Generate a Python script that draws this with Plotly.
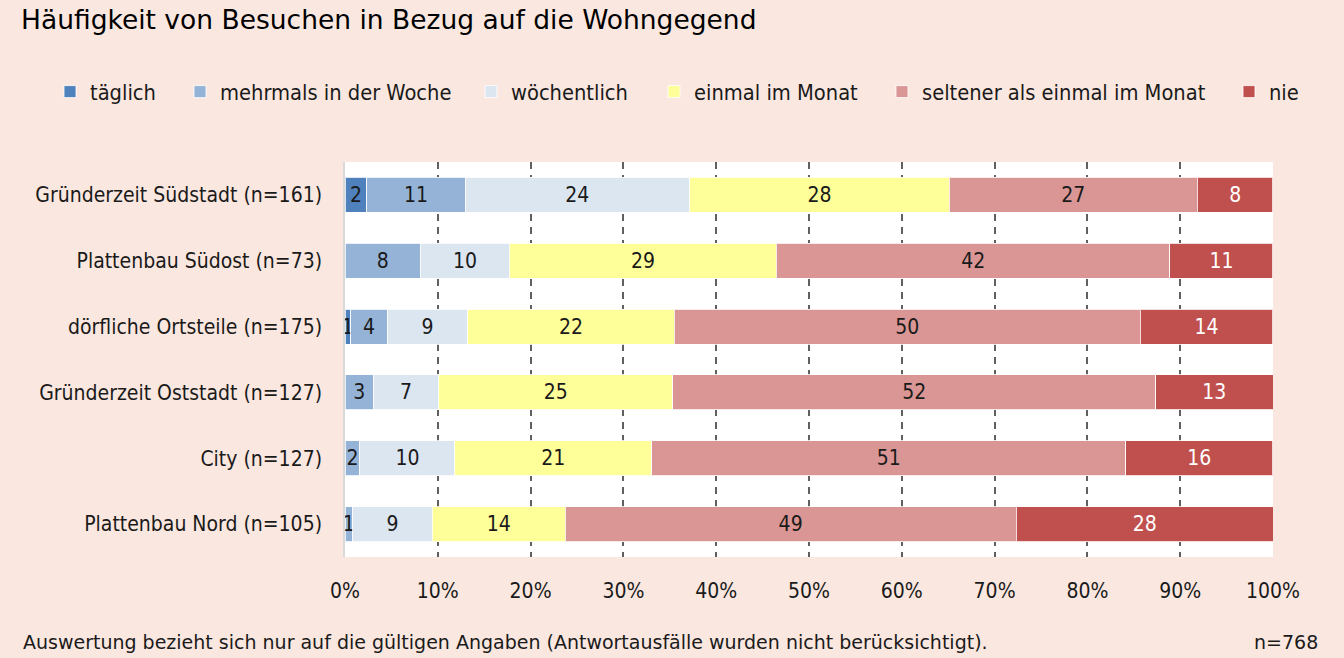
import plotly.graph_objects as go

categories = [
    "Gründerzeit Südstadt (n=161)",
    "Plattenbau Südost (n=73)",
    "dörfliche Ortsteile (n=175)",
    "Gründerzeit Oststadt (n=127)",
    "City (n=127)",
    "Plattenbau Nord (n=105)",
]

series_names = [
    "täglich",
    "mehrmals in der Woche",
    "wöchentlich",
    "einmal im Monat",
    "seltener als einmal im Monat",
    "nie",
]

taeglich = [2.37, 0.0, 0.6, 0.0, 0.0, 0.0]
mehrmals = [10.57, 8.12, 4.0, 3.05, 1.6, 0.82]
woechentlich = [24.2, 9.6, 8.6, 7.05, 10.25, 8.6]
einmal = [27.97, 28.77, 22.29, 25.24, 21.2, 14.3]
seltener = [26.75, 42.4, 50.2, 52.0, 51.1, 48.6]
nie = [8.13, 11.1, 14.3, 12.66, 15.83, 27.7]

tick_values = [0, 10, 20, 30, 40, 50, 60, 70, 80, 90, 100]
tick_labels = ["0%", "10%", "20%", "30%", "40%", "50%", "60%", "70%", "80%", "90%", "100%"]

colors = ["#4F81BD", "#95B3D7", "#DCE6F1", "#FFFF99", "#DA9694", "#C0504D"]
text_colors = ["#1a1a1a", "#1a1a1a", "#1a1a1a", "#1a1a1a", "#1a1a1a", "#ffffff"]

# left edge (px, in the page) where each legend entry's text begins
legend_text_x = [90, 220, 511, 694, 922, 1269]

FONT = "DejaVu Sans Condensed, Liberation Sans Narrow, sans-serif"
W, H = 1344, 658

fig = go.Figure()
legend_ids = ["legend"] + ["legend%d" % i for i in range(2, 7)]
for name, vals, col, tcol, lid in zip(series_names,
                                      [taeglich, mehrmals, woechentlich, einmal, seltener, nie],
                                      colors, text_colors, legend_ids):
    texts = [("%.0f" % v) if v > 0 else "" for v in vals]
    fig.add_trace(go.Bar(
        y=categories,
        x=vals,
        name=name,
        legend=lid,
        orientation="h",
        marker=dict(color=col, line=dict(color="rgba(255,255,255,0.8)", width=1)),
        text=texts,
        textposition="inside",
        insidetextanchor="middle",
        constraintext="none",
        textangle=0,
        textfont=dict(family=FONT, size=21, color=tcol),
        hovertemplate="%{y}<br>" + name + ": %{x:.0f}%<extra></extra>",
    ))

legends = {}
for lid, tx in zip(legend_ids, legend_text_x):
    legends[lid] = dict(
        orientation="h",
        xref="container", x=(tx - 40) / W, xanchor="left",
        yref="container", y=1 - 92 / H, yanchor="middle",
        font=dict(family=FONT, size=21.7, color="#1a1a1a"),
        bgcolor="rgba(0,0,0,0)",
        borderwidth=0,
    )

FOOT_FONT = "DejaVu Sans, sans-serif"

fig.update_layout(
    width=W,
    height=H,
    barmode="stack",
    bargap=0.47,
    paper_bgcolor="#FAE8E0",
    plot_bgcolor="#FFFFFF",
    margin=dict(l=345, r=71, t=162, b=101, autoexpand=False),
    font=dict(family=FONT, size=20, color="#1a1a1a"),
    title=dict(
        text="Häufigkeit von Besuchen in Bezug auf die Wohngegend",
        font=dict(family="DejaVu Sans, sans-serif", size=26.5, color="#000000"),
        xref="container", x=21 / W, xanchor="left",
        yref="container", y=1 - 20 / H, yanchor="middle",
    ),
    xaxis=dict(
        range=[0, 100],
        tickvals=tick_values,
        ticktext=tick_labels,
        showgrid=True,
        gridcolor="#606060",
        gridwidth=1.5,
        griddash="7px,6px",
        zeroline=False,
        showline=False,
        ticks="",
        ticklabelstandoff=19,
        tickfont=dict(family=FONT, size=21, color="#1a1a1a"),
        fixedrange=True,
    ),
    yaxis=dict(
        autorange="reversed",
        showline=True,
        linecolor="#D9D9D9",
        linewidth=1.5,
        showgrid=False,
        ticks="",
        ticklabelstandoff=17,
        tickfont=dict(family=FONT, size=21, color="#1a1a1a"),
        fixedrange=True,
    ),
    annotations=[
        dict(text="Auswertung bezieht sich nur auf die gültigen Angaben (Antwortausfälle wurden nicht berücksichtigt).",
             xref="paper", yref="paper", x=-324 / 928, y=-85 / 395,
             xanchor="left", yanchor="middle", showarrow=False,
             font=dict(family=FOOT_FONT, size=19, color="#1a1a1a")),
        dict(text="n=768",
             xref="paper", yref="paper", x=(1320 - 345) / 928, y=-85 / 395,
             xanchor="right", yanchor="middle", showarrow=False,
             font=dict(family=FOOT_FONT, size=19, color="#1a1a1a")),
    ],
    showlegend=True,
    **legends,
)

fig.write_html("out.html", post_script="document.body.style.margin='0px';",
               config={"displayModeBar": False})
